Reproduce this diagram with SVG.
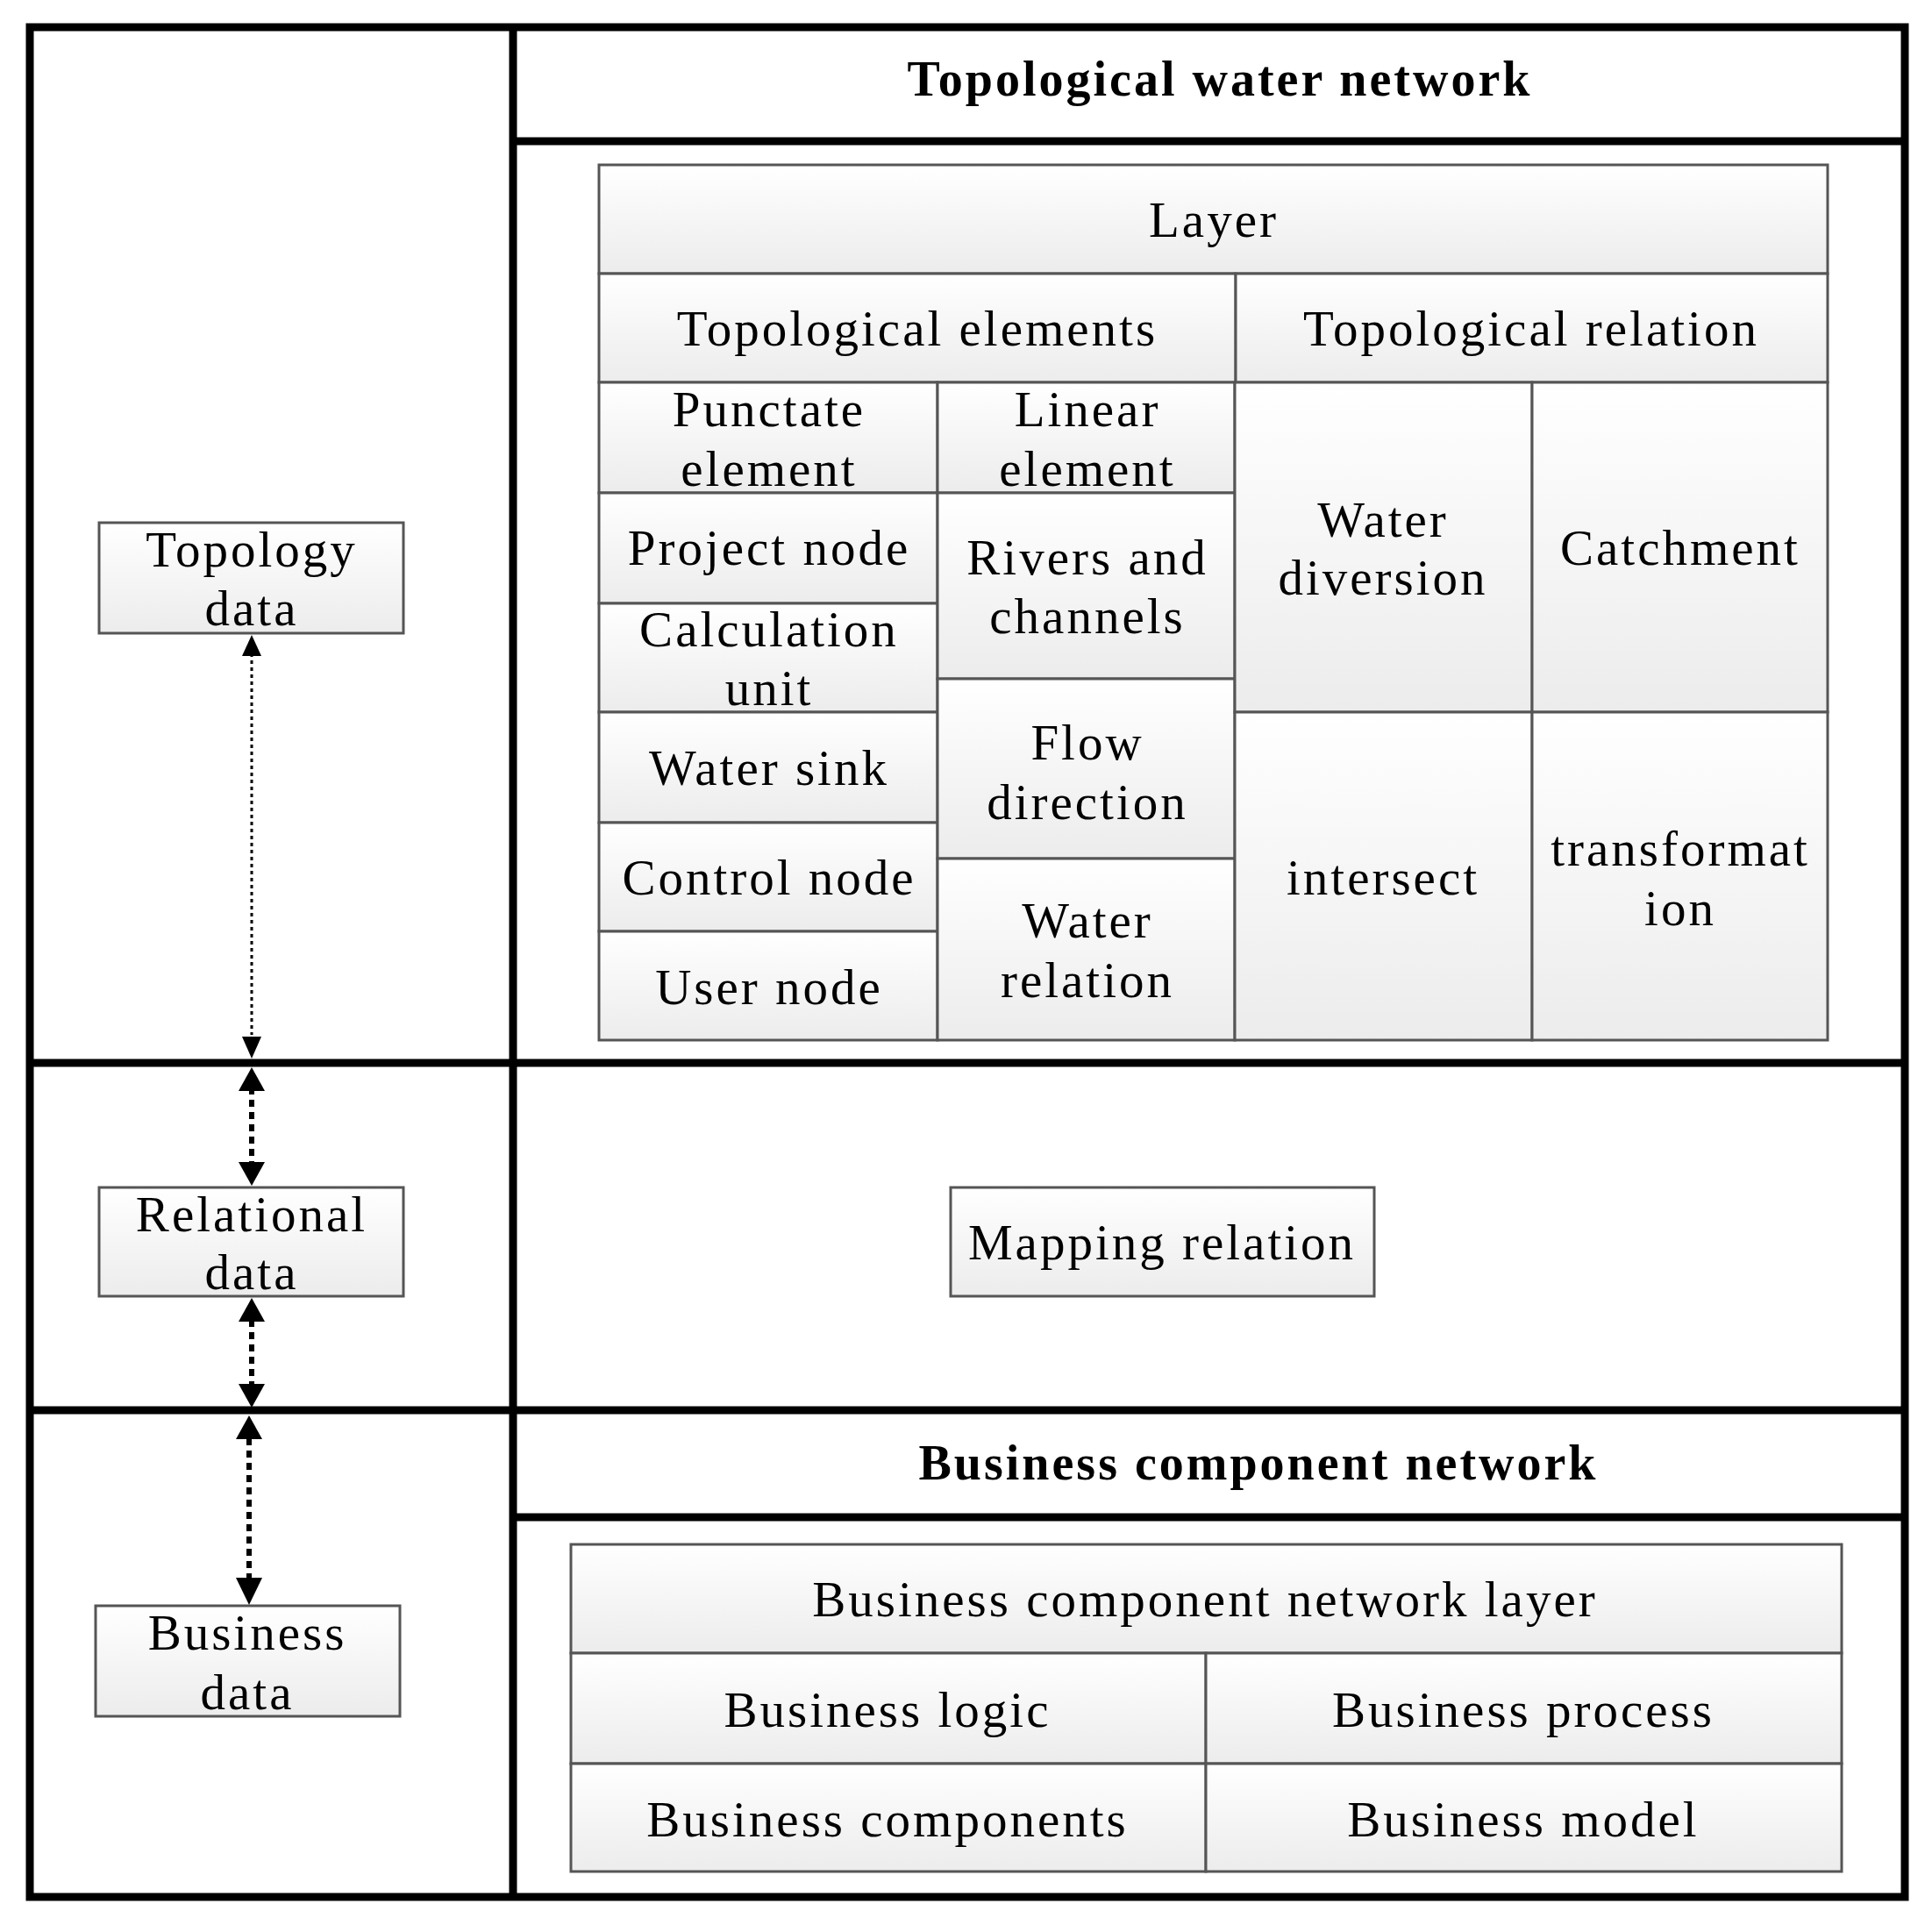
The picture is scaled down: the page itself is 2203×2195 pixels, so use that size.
<svg xmlns="http://www.w3.org/2000/svg" width="2203" height="2195" viewBox="0 0 2203 2195">
<defs>
<linearGradient id="g" x1="0" y1="0" x2="0" y2="1"><stop offset="0" stop-color="#ffffff"/><stop offset="1" stop-color="#ececec"/></linearGradient>
<style>
.c{fill:url(#g);stroke:#555;stroke-width:3}
.t{font-family:"Liberation Serif",serif;font-size:57px;letter-spacing:3px;text-anchor:middle;dominant-baseline:central;fill:#000}
.h{font-family:"Liberation Serif",serif;font-size:56px;font-weight:bold;letter-spacing:3px;text-anchor:middle;dominant-baseline:central}
.f{fill:none;stroke:#000;stroke-width:9}
</style>
</defs>
<rect width="2203" height="2195" fill="#fff"/>
<g id="frame">
<rect class="f" x="34" y="31" width="2138" height="2132"/>
<line class="f" x1="585" y1="31" x2="585" y2="2163"/>
<line class="f" x1="585" y1="161" x2="2172" y2="161"/>
<line class="f" x1="34" y1="1212" x2="2172" y2="1212"/>
<line class="f" x1="34" y1="1608" x2="2172" y2="1608"/>
<line class="f" x1="585" y1="1730" x2="2172" y2="1730"/>
<text class="h" x="1391" y="90">Topological water network</text>
<text class="h" x="1435" y="1668">Business component network</text>
</g>
<g id="topo-table">
<rect class="c" x="683" y="188" width="1401" height="124"/><text class="t" x="1384" y="250">Layer</text>
<rect class="c" x="683" y="312" width="726" height="124"/><text class="t" x="1046" y="374">Topological elements</text>
<rect class="c" x="1409" y="312" width="675" height="124"/><text class="t" x="1746" y="374">Topological relation</text>
<rect class="c" x="683" y="436" width="386" height="126"/><text class="t" x="877" y="466">Punctate</text><text class="t" x="877" y="534">element</text>
<rect class="c" x="1069" y="436" width="339" height="126"/><text class="t" x="1240" y="466">Linear</text><text class="t" x="1240" y="534">element</text>
<rect class="c" x="683" y="562" width="386" height="126"/><text class="t" x="877" y="624">Project node</text>
<rect class="c" x="683" y="688" width="386" height="124"/><text class="t" x="877" y="717">Calculation</text><text class="t" x="877" y="784">unit</text>
<rect class="c" x="683" y="812" width="386" height="126"/><text class="t" x="877" y="875">Water sink</text>
<rect class="c" x="683" y="938" width="386" height="124"/><text class="t" x="877" y="1000">Control node</text>
<rect class="c" x="683" y="1062" width="386" height="124"/><text class="t" x="877" y="1125">User node</text>
<rect class="c" x="1069" y="562" width="339" height="212"/><text class="t" x="1240" y="635">Rivers and</text><text class="t" x="1240" y="702">channels</text>
<rect class="c" x="1069" y="774" width="339" height="205"/><text class="t" x="1240" y="846">Flow</text><text class="t" x="1240" y="914">direction</text>
<rect class="c" x="1069" y="979" width="339" height="207"/><text class="t" x="1240" y="1049">Water</text><text class="t" x="1240" y="1117">relation</text>
<rect class="c" x="1408" y="436" width="339" height="376"/><text class="t" x="1577" y="592">Water</text><text class="t" x="1577" y="658">diversion</text>
<rect class="c" x="1747" y="436" width="337" height="376"/><text class="t" x="1916" y="624">Catchment</text>
<rect class="c" x="1408" y="812" width="339" height="374"/><text class="t" x="1577" y="1000">intersect</text>
<rect class="c" x="1747" y="812" width="337" height="374"/><text class="t" x="1916" y="967">transformat</text><text class="t" x="1916" y="1035">ion</text>
</g>
<g id="topology-data"><rect class="c" x="113" y="596" width="347" height="126"/><text class="t" x="287" y="626">Topology</text><text class="t" x="287" y="693">data</text></g>
<g id="relational-data"><rect class="c" x="113" y="1354" width="347" height="124"/><text class="t" x="287" y="1384">Relational</text><text class="t" x="287" y="1450">data</text></g>
<g id="business-data"><rect class="c" x="109" y="1831" width="347" height="126"/><text class="t" x="282" y="1861">Business</text><text class="t" x="282" y="1929">data</text></g>
<g id="mapping"><rect class="c" x="1084" y="1354" width="483" height="124"/><text class="t" x="1325" y="1416">Mapping relation</text></g>
<g id="business-table">
<rect class="c" x="651" y="1761" width="1449" height="124"/><text class="t" x="1374" y="1823">Business component network layer</text>
<rect class="c" x="651" y="1885" width="724" height="126"/><text class="t" x="1012" y="1949">Business logic</text>
<rect class="c" x="1375" y="1885" width="725" height="126"/><text class="t" x="1737" y="1949">Business process</text>
<rect class="c" x="651" y="2011" width="724" height="123"/><text class="t" x="1012" y="2074">Business components</text>
<rect class="c" x="1375" y="2011" width="725" height="123"/><text class="t" x="1737" y="2074">Business model</text>
</g>
<g id="connectors" fill="#000" stroke="#000">
<line x1="287" y1="745" x2="287" y2="1180" stroke-width="3" stroke-dasharray="4,4"/>
<polygon points="287,724 276,748 298,748" stroke="none"/>
<polygon points="287,1207 276,1182 298,1182" stroke="none"/>
<line x1="287" y1="1240" x2="287" y2="1325" stroke-width="6" stroke-dasharray="8,6"/>
<polygon points="287,1217 272,1244 302,1244" stroke="none"/>
<polygon points="287,1352 272,1325 302,1325" stroke="none"/>
<line x1="287" y1="1505" x2="287" y2="1580" stroke-width="6" stroke-dasharray="8,6"/>
<polygon points="287,1480 272,1507 302,1507" stroke="none"/>
<polygon points="287,1605 272,1578 302,1578" stroke="none"/>
<line x1="284" y1="1640" x2="284" y2="1800" stroke-width="6" stroke-dasharray="8,6"/>
<polygon points="284,1614 269,1641 299,1641" stroke="none"/>
<polygon points="284,1830 269,1799 299,1799" stroke="none"/>
</g>
</svg>
